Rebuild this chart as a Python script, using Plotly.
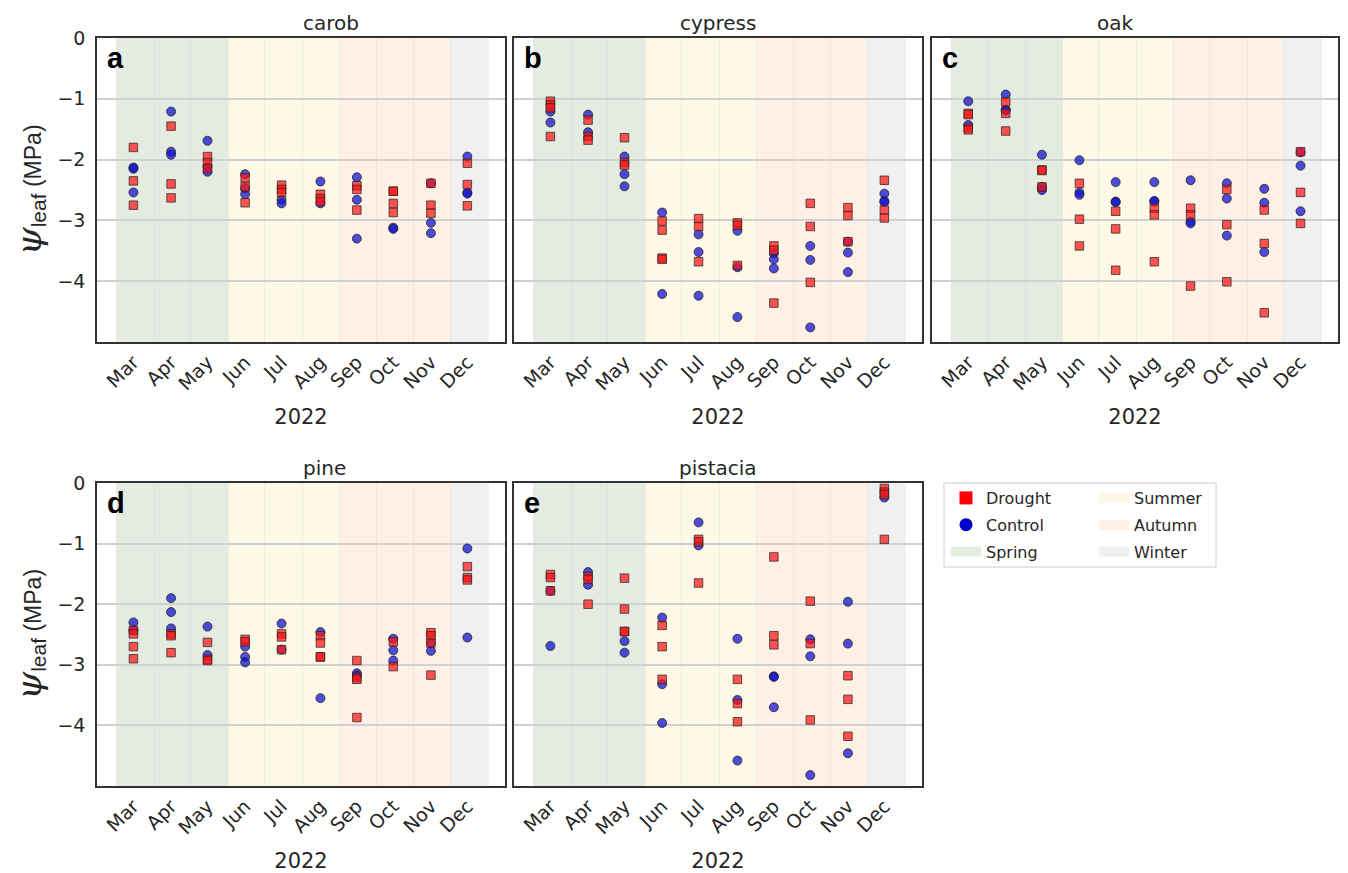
import plotly.graph_objects as go

# ---------------- data ----------------
dates = ["2022-03-15", "2022-04-15", "2022-05-15", "2022-06-15", "2022-07-15",
         "2022-08-16", "2022-09-15", "2022-10-15", "2022-11-15", "2022-12-15"]
month_labels = ["Mar", "Apr", "May", "Jun", "Jul", "Aug", "Sep", "Oct", "Nov", "Dec"]
month_starts = ["2022-03-01", "2022-04-01", "2022-05-01", "2022-06-01", "2022-07-01",
                "2022-08-01", "2022-09-01", "2022-10-01", "2022-11-01", "2022-12-01",
                "2023-01-01"]

species = ["carob", "cypress", "oak", "pine", "pistacia"]
panel_letters = ["a", "b", "c", "d", "e"]

carob_drought = [[-1.80, -2.35, -2.75], [-1.45, -2.40, -2.63], [-1.95, -2.05, -2.15],
                 [-2.30, -2.45, -2.71], [-2.42, -2.49, -2.54], [-2.57, -2.64, -2.69],
                 [-2.43, -2.49, -2.83], [-2.52, -2.52, -2.72, -2.87], [-2.39, -2.75, -2.88],
                 [-2.06, -2.41, -2.76]]
carob_control = [[-2.13, -2.15, -2.54], [-1.21, -1.87, -1.92], [-1.69, -2.12, -2.20],
                 [-2.24, -2.47, -2.57], [-2.66, -2.72], [-2.36, -2.72],
                 [-2.29, -2.66, -3.30], [-3.12, -3.14], [-2.39, -3.04, -3.21],
                 [-1.95, -2.54, -2.56]]

cypress_drought = [[-1.04, -1.10, -1.15, -1.62], [-1.35, -1.62, -1.68], [-1.64, -2.05, -2.09],
                   [-3.01, -3.16, -3.62, -3.64], [-2.97, -3.10, -3.68], [-3.04, -3.08, -3.74],
                   [-3.42, -3.49, -4.36], [-2.72, -3.10, -4.02], [-2.79, -2.92, -3.35],
                   [-2.34, -2.83, -2.96]]
cypress_control = [[-1.21, -1.39], [-1.26, -1.55], [-1.95, -2.24, -2.44],
                   [-2.87, -4.21], [-3.23, -3.52, -4.24], [-3.17, -3.77, -4.59],
                   [-3.54, -3.64, -3.79], [-3.42, -3.65, -4.76], [-3.35, -3.53, -3.85],
                   [-2.56, -2.68, -2.70]]

oak_drought = [[-1.24, -1.26, -1.48, -1.51], [-1.05, -1.24, -1.53], [-2.17, -2.18, -2.45],
               [-2.39, -2.98, -3.42], [-2.85, -3.14, -3.82], [-2.80, -2.91, -3.68],
               [-2.80, -2.91, -4.08], [-2.49, -3.07, -4.01], [-2.83, -3.38, -4.52],
               [-1.87, -2.54, -3.05]]
oak_control = [[-1.04, -1.43], [-0.93, -1.18, -1.19], [-1.92, -2.45, -2.50],
               [-2.01, -2.54, -2.58], [-2.37, -2.69, -2.70], [-2.37, -2.68, -2.69],
               [-2.34, -3.02, -3.05], [-2.39, -2.64, -3.25], [-2.48, -2.71, -3.52],
               [-1.88, -2.10, -2.85]]

pine_drought = [[-2.43, -2.49, -2.70, -2.90], [-2.49, -2.52, -2.80], [-2.63, -2.91, -2.93],
                [-2.58, -2.62], [-2.49, -2.54, -2.75], [-2.52, -2.64, -2.87, -2.87],
                [-2.93, -3.21, -3.24, -3.87], [-2.62, -3.03], [-2.47, -2.52, -2.64, -3.17],
                [-1.38, -1.56, -1.60]]
pine_control = [[-2.30, -2.43], [-1.90, -2.13, -2.40], [-2.37, -2.84],
                [-2.70, -2.87, -2.96], [-2.32, -2.75], [-2.46, -3.55],
                [-3.14, -3.18], [-2.57, -2.76, -2.93], [-2.64, -2.77],
                [-1.08, -2.55]]

pistacia_drought = [[-1.51, -1.56, -1.78], [-1.54, -1.59, -2.00], [-1.57, -2.08, -2.45, -2.45],
                    [-2.35, -2.70, -3.24], [-0.93, -0.97, -1.65], [-3.24, -3.64, -3.94],
                    [-1.22, -2.52, -2.67], [-1.95, -2.65, -3.91], [-3.18, -3.57, -4.18],
                    [-0.09, -0.15, -0.19, -0.93]]
pistacia_control = [[-1.78, -2.69], [-1.47, -1.68], [-2.61, -2.80],
                    [-2.22, -3.32, -3.96], [-0.65, -1.03], [-2.57, -3.58, -4.58],
                    [-3.19, -3.20, -3.70], [-2.58, -2.86, -4.82], [-1.96, -2.65, -4.46],
                    [-0.24]]

drought_data = [carob_drought, cypress_drought, oak_drought, pine_drought, pistacia_drought]
control_data = [carob_control, cypress_control, oak_control, pine_control, pistacia_control]

season_names = ["Spring", "Summer", "Autumn", "Winter"]
season_starts = ["2022-03-01", "2022-06-01", "2022-09-01", "2022-12-01"]
season_ends = ["2022-06-01", "2022-09-01", "2022-12-01", "2023-01-01"]
season_colors = ["rgb(228,236,226)", "rgb(254,248,230)", "rgb(254,240,229)", "rgb(240,240,240)"]

y_ticks = [0, -1, -2, -3, -4]
y_ticktext = ["0", "−1", "−2", "−3", "−4"]

# ---------------- layout geometry ----------------
OFF = 8  # page body margin
W, H = 1348 - OFF, 873 - OFF
col_px = [(97, 505), (514, 922), (932, 1338)]
row_px = [(38, 342), (483, 786)]
positions = [(0, 0), (0, 1), (0, 2), (1, 0), (1, 1)]


def px_x(p):
    return (p - OFF) / W


def px_y(p):
    return 1 - (p - OFF) / H


FONT = "DejaVu Sans"
TXT = "#262626"

fig = go.Figure()
layout = dict(template="none", width=W, height=H, margin=dict(l=0, r=0, t=0, b=0),
              paper_bgcolor="white", plot_bgcolor="white", showlegend=True,
              font=dict(family=FONT, color=TXT))
shapes = []
annotations = []

for i, sp in enumerate(species):
    r, c = positions[i]
    ax = "" if i == 0 else str(i + 1)
    xa, ya = "x" + ax, "y" + ax
    x0, x1 = col_px[c]
    top, bot = row_px[r]
    xdom = [px_x(x0), px_x(x1)]
    ydom = [px_y(bot), px_y(top)]

    layout["xaxis" + ax] = dict(
        domain=xdom, anchor=ya, type="date", automargin=False,
        range=["2022-02-13", "2023-01-15"],
        tickmode="array", tickvals=dates, ticktext=month_labels,
        tickangle=-45, tickfont=dict(size=19, family=FONT, color=TXT),
        showgrid=False, zeroline=False, ticks="",
        showline=True, mirror=True, linecolor="#333", linewidth=1.5,
        minor=dict(tickmode="array", tickvals=month_starts, showgrid=True,
                   gridcolor="rgba(200,200,200,0.25)", gridwidth=1, ticks=""),
        title=dict(text="2022", font=dict(size=21, family=FONT, color=TXT), standoff=16),
    )
    layout["yaxis" + ax] = dict(
        domain=ydom, anchor=xa, range=[-5, 0], automargin=False,
        tickmode="array", tickvals=y_ticks, ticktext=y_ticktext,
        showticklabels=(c == 0), tickfont=dict(size=19, family=FONT, color=TXT),
        ticklabelstandoff=6,
        showgrid=True, gridcolor="#d0d0d0", gridwidth=1.5, zeroline=False, ticks="",
        showline=True, mirror=True, linecolor="#333", linewidth=1.5,
    )
    if c == 0:
        layout["yaxis" + ax]["title"] = dict(
            text="<span style='font-size:36px;font-family:DejaVu Serif'><i>ψ</i></span>"
                 "<sub><span style='font-size:21px'>leaf</span></sub> (MPa)",
            font=dict(size=23, family="Liberation Sans", color=TXT), standoff=12)

    # season bands
    for sname, s0, s1, scol in zip(season_names, season_starts, season_ends, season_colors):
        shapes.append(dict(type="rect", xref=xa, yref=ya + " domain", x0=s0, x1=s1,
                           y0=0, y1=1, fillcolor=scol, line=dict(width=0), layer="below"))

    # data points
    xd, yd, xc, yc = [], [], [], []
    for d, vals in zip(dates, drought_data[i]):
        xd += [d] * len(vals)
        yd += vals
    for d, vals in zip(dates, control_data[i]):
        xc += [d] * len(vals)
        yc += vals
    fig.add_trace(go.Scatter(x=xc, y=yc, xaxis=xa, yaxis=ya, mode="markers",
                             marker=dict(symbol="circle", size=9, color="rgba(20,20,210,0.75)",
                                         line=dict(color="rgba(30,30,30,0.75)", width=1)),
                             showlegend=False, name="Control"))
    fig.add_trace(go.Scatter(x=xd, y=yd, xaxis=xa, yaxis=ya, mode="markers",
                             marker=dict(symbol="square", size=8.5, color="rgba(255,20,20,0.72)",
                                         line=dict(color="rgba(40,40,40,0.75)", width=1)),
                             showlegend=False, name="Drought"))

    # subplot title
    annotations.append(dict(text=sp, xref="paper", yref="paper",
                            x=(xdom[0] + xdom[1]) / 2, y=ydom[1], yanchor="bottom",
                            yshift=1, showarrow=False,
                            font=dict(size=20, family=FONT, color=TXT)))
    # panel letter
    annotations.append(dict(text="<b>" + panel_letters[i] + "</b>", xref="paper", yref="paper",
                            x=xdom[0], y=ydom[1], xanchor="left", yanchor="top",
                            xshift=8, yshift=-2, showarrow=False,
                            font=dict(size=29, family="Liberation Sans", color="black")))

# legend entries: two legends side by side, one group per entry for spacing
fig.add_trace(go.Scatter(x=[None], y=[None], mode="markers", name="Drought", legend="legend",
                         legendgroup="g1", marker=dict(symbol="square", size=13, color="red")))
fig.add_trace(go.Scatter(x=[None], y=[None], mode="markers", name="Control", legend="legend",
                         legendgroup="g2", marker=dict(symbol="circle", size=13, color="#0000cc")))
fig.add_trace(go.Scatter(x=[None], y=[None], mode="lines", name="Spring", legend="legend",
                         legendgroup="g3", line=dict(width=14, color=season_colors[0])))
for k in (1, 2, 3):
    fig.add_trace(go.Scatter(x=[None], y=[None], mode="lines", name=season_names[k],
                             legend="legend2", legendgroup="s%d" % k,
                             line=dict(width=14, color=season_colors[k])))

leg_common = dict(orientation="v", yanchor="top", xanchor="left", bgcolor="rgba(0,0,0,0)",
                  borderwidth=0, font=dict(size=16, family=FONT, color=TXT),
                  tracegroupgap=3, itemwidth=30)
layout["legend"] = dict(x=px_x(946), y=px_y(481), **leg_common)
layout["legend2"] = dict(x=px_x(1094), y=px_y(481), **leg_common)
shapes.append(dict(type="rect", xref="paper", yref="paper", x0=px_x(944), x1=px_x(1216),
                   y0=px_y(567), y1=px_y(483), line=dict(color="#cccccc", width=1),
                   fillcolor="rgba(0,0,0,0)", layer="above"))
layout["shapes"] = shapes
layout["annotations"] = annotations
fig.update_layout(**layout)

fig.write_html("out.html")
